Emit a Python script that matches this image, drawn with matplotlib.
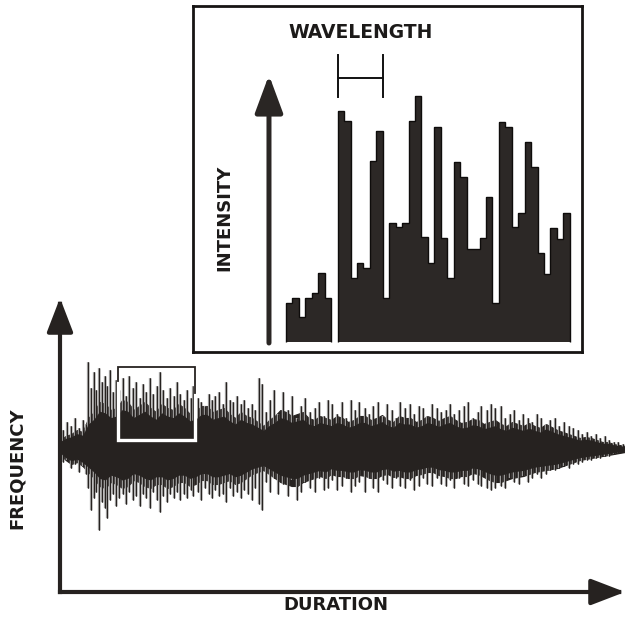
import matplotlib
matplotlib.use("Agg")
import numpy as np
import matplotlib.pyplot as plt
import matplotlib.patheffects as pe
from matplotlib.patches import Rectangle

INK = "#262220"
TEXT = "#1c1a19"

# ---- waveform (duration 0..100, amplitude in arbitrary units, + up) ----
ENV_T = list(range(0, 101))
ENV_UP = [8, 12, 14, 18, 16, 30, 36, 46, 44, 38, 40, 48, 46, 38, 42, 46, 40, 36, 44, 40,
          38, 44, 40, 34, 36, 42, 42, 36, 38, 40, 34, 30, 36, 32, 30, 26, 22, 28, 32, 38,
          36, 32, 34, 36, 30, 28, 32, 30, 28, 32, 30, 26, 28, 32, 32, 28, 30, 33, 28, 26,
          32, 30, 30, 26, 28, 32, 30, 27, 30, 32, 28, 25, 26, 29, 28, 24, 26, 28, 24, 22,
          26, 24, 22, 25, 22, 20, 24, 21, 18, 16, 14, 12, 10, 11, 10, 8, 6, 6, 4, 3, 2]
ENV_DN = [6, 12, 16, 14, 18, 24, 30, 38, 40, 34, 36, 40, 38, 32, 34, 38, 40, 36, 36, 40,
          38, 34, 34, 38, 36, 32, 32, 36, 36, 34, 32, 36, 34, 30, 26, 24, 22, 26, 30, 34,
          36, 38, 38, 34, 32, 30, 28, 30, 26, 28, 28, 30, 30, 27, 28, 30, 30, 27, 26, 29,
          28, 30, 30, 27, 26, 24, 24, 27, 28, 30, 30, 28, 28, 25, 26, 29, 32, 34, 34, 32,
          30, 29, 28, 26, 24, 23, 22, 21, 20, 18, 16, 14, 12, 11, 10, 9, 8, 7, 6, 5, 4]

SPIKE_T = [0.6, 1.3, 2.0, 2.6, 3.3, 4.0, 4.6,
           5.0, 5.5, 6.0, 6.4, 6.9, 7.4, 7.9, 8.4, 8.9, 9.4, 9.9,
           10.5, 11.1, 11.7, 12.3, 12.9, 13.5, 14.1, 14.7, 15.3, 15.9, 16.5, 17.1, 17.7,
           18.3, 18.9, 19.5, 20.1, 20.7, 21.3, 21.9, 22.5, 23.1, 23.6,
           24.4, 25.0, 25.6, 26.3, 26.9, 27.5, 28.1, 28.8, 29.4, 30.0, 30.7, 31.3, 32.0,
           32.6, 33.3, 34.0, 34.6, 35.3, 35.7, 36.4,
           37.1, 37.9, 38.6, 39.5, 40.3, 41.0, 41.9, 42.7, 43.4, 44.3, 45.1, 45.8, 46.7,
           47.5, 48.2, 49.1, 49.9, 50.6, 51.5, 52.3, 53.0, 53.9, 54.7, 55.4, 56.3, 57.1,
           57.8, 58.7, 59.5, 60.2, 61.1, 61.9, 62.6, 63.5, 64.3, 65.0, 65.9, 66.7, 67.4,
           68.3, 69.1, 69.8, 70.7, 71.5, 72.2, 73.1, 73.9, 74.6, 75.5, 76.3, 77.0,
           78.0, 78.8, 79.6, 80.4, 81.2, 82.0, 82.8, 83.6, 84.4, 85.2, 86.0, 86.8, 87.6,
           88.4, 89.2, 90.0, 90.8, 91.6, 92.4, 93.2, 94.0, 94.8, 95.6, 96.4, 97.2, 98.0,
           98.8, 99.6]
SPIKE_UP = [18, 26, 22, 30, 20, 28, 24,
            86, 60, 76, 58, 80, 66, 72, 62, 78, 56, 68,
            58, 70, 52, 72, 60, 66, 50, 64, 56, 70, 54, 62, 76, 58, 50, 60, 52, 66, 54,
            48, 58, 50, 62,
            50, 46, 42, 54, 48, 52, 56, 44, 66, 48, 46, 52, 44, 48, 40, 44, 38, 70, 64, 36,
            48, 58, 34, 56, 38, 52, 30, 42, 50, 36, 40, 46, 32, 48, 44, 34, 46, 30, 48, 38,
            46, 40, 34, 42, 46, 32, 44, 38, 30, 46, 40, 44, 34, 42, 40, 32, 44, 40, 36, 38,
            44, 34, 38, 42, 46, 30, 36, 42, 38, 44, 40,
            42, 30, 34, 38, 28, 34, 30, 26, 34, 30, 24, 28, 30, 22, 26, 22, 20, 18, 14, 16,
            12, 14, 10, 12, 8, 6, 6, 4]
SPIKE_DN = [14, 12, 20, 16, 24, 18, 26,
            40, 62, 50, 44, 82, 54, 60, 70, 52, 46, 58,
            50, 46, 56, 44, 52, 48, 58, 46, 50, 60, 44, 52, 64, 48, 54, 46, 50, 44, 52,
            46, 50, 42, 48,
            44, 52, 40, 46, 50, 42, 48, 46, 54, 40, 48, 44, 50, 42, 46, 52, 40, 56, 62, 34,
            44, 30, 46, 36, 48, 32, 52, 44, 34, 40, 44, 30, 42, 40, 32, 42, 38, 30, 44, 38,
            34, 44, 30, 40, 44, 32, 36, 40, 30, 38, 40, 32, 42, 38, 30, 36, 38, 30, 36, 38,
            32, 40, 30, 36, 38, 32, 36, 38, 40, 42, 40,
            38, 40, 30, 34, 36, 28, 34, 30, 26, 30, 26, 22, 22, 20, 18, 20, 16, 16, 14, 12,
            12, 10, 10, 8, 8, 6, 5, 4]

# zoom window drawn on the waveform: (t0, t1, amp_lo, amp_hi)
ZOOM_BOX = (10.3, 23.9, 8, 81)

# ---- inset: intensity of successive samples ----
GROUP1 = [39, 44, 25, 44, 49, 69, 44]
GROUP2 = [231, 221, 64, 79, 74, 181, 211, 44, 119, 115, 119, 221, 246, 105, 79, 215,
          104, 64, 180, 165, 93, 93, 104, 145, 39, 220, 215, 115, 129, 200, 175, 89,
          68, 114, 103, 129]
GROUP2_START = 8
WAVELENGTH_SPAN = (8, 15)

fig = plt.figure(figsize=(6.25, 6.23), dpi=100)
fig.patch.set_facecolor("white")

# main axes: duration vs frequency
ax = fig.add_axes([60 / 625, (623 - 592) / 623, 565 / 625, 294 / 623])
ax.set_xlim(0, 100)
ax.set_ylim(-144, 150)
ax.axis("off")

ax.fill_between(ENV_T, ENV_UP, -np.array(ENV_DN), color=INK, lw=0.8, ec=INK, zorder=2)
spk = ax.vlines(SPIKE_T, -np.array(SPIKE_DN), SPIKE_UP, color=INK, lw=0.9, zorder=3)
spk.set_path_effects([pe.withStroke(linewidth=1.7, foreground="#bdbdbd"), pe.Normal()])
ax.fill_between(ENV_T, 0.8 * np.array(ENV_UP), -0.8 * np.array(ENV_DN),
                color=INK, lw=0, zorder=4)

t0, t1, lo, hi = ZOOM_BOX
ax.add_patch(Rectangle((t0, lo), t1 - t0, hi - lo, fill=False, ec="white", lw=2.4, zorder=5))
ax.plot([t0, t0, t1, t1], [hi - 14, hi, hi, hi - 26], color=INK, lw=1.3, zorder=6,
        solid_joinstyle="miter")

main_arrow = dict(arrowstyle="-|>,head_length=1.3,head_width=0.5", mutation_scale=16,
                  lw=3, color=INK, shrinkA=0, shrinkB=0, capstyle="projecting")
ax.annotate("", xy=(0, 1), xytext=(0, 0), xycoords="axes fraction",
            arrowprops=main_arrow, annotation_clip=False)
ax.annotate("", xy=(1, 0), xytext=(0, 0), xycoords="axes fraction",
            arrowprops=main_arrow, annotation_clip=False)

fig.text(17 / 625, 1 - 468 / 623, "FREQUENCY", rotation=90, ha="center", va="center",
         fontsize=13, fontweight="bold", color=TEXT)
fig.text(336 / 625, 1 - 605 / 623, "DURATION", ha="center", va="center",
         fontsize=13, fontweight="bold", color=TEXT)

# inset
ins = fig.add_axes([193 / 625, (623 - 352) / 623, 389 / 625, 346 / 623], zorder=10)
ins.set_facecolor("white")
ins.set_xlim(-14.42, 45.89)
ins.set_ylim(-10, 336)
ins.set_xticks([])
ins.set_yticks([])
for s in ins.spines.values():
    s.set_linewidth(2)
    s.set_color("#161413")

e1 = np.arange(len(GROUP1) + 1)
e2 = np.arange(len(GROUP2) + 1) + GROUP2_START
for vals, edges in ((GROUP1, e1), (GROUP2, e2)):
    ins.stairs(vals, edges, baseline=0, fill=True, color="#2c2826", lw=0)
    ins.stairs(vals, edges, baseline=0, fill=False, color="#0e0c0b", lw=1.0)

ins.annotate("", xy=(-2.64, 267), xytext=(-2.64, -1),
             arrowprops=dict(arrowstyle="-|>,head_length=1.35,head_width=0.5",
                             mutation_scale=17, lw=3.6, color="#2a2624",
                             shrinkA=0, shrinkB=0))

w0, w1 = WAVELENGTH_SPAN
ins.plot([w0, w0], [245, 287], color="#111", lw=1.4)
ins.plot([w1, w1], [245, 287], color="#111", lw=1.4)
ins.plot([w0, w1], [264, 264], color="#111", lw=1.4)
ins.text((w0 + w1) / 2, 310, "WAVELENGTH", ha="center", va="center",
         fontsize=13.5, fontweight="bold", color=TEXT)
ins.text(-9.6, 124, "INTENSITY", rotation=90, ha="center", va="center",
         fontsize=13, fontweight="bold", color=TEXT)

fig.savefig("out.png", dpi=100, facecolor="white")
